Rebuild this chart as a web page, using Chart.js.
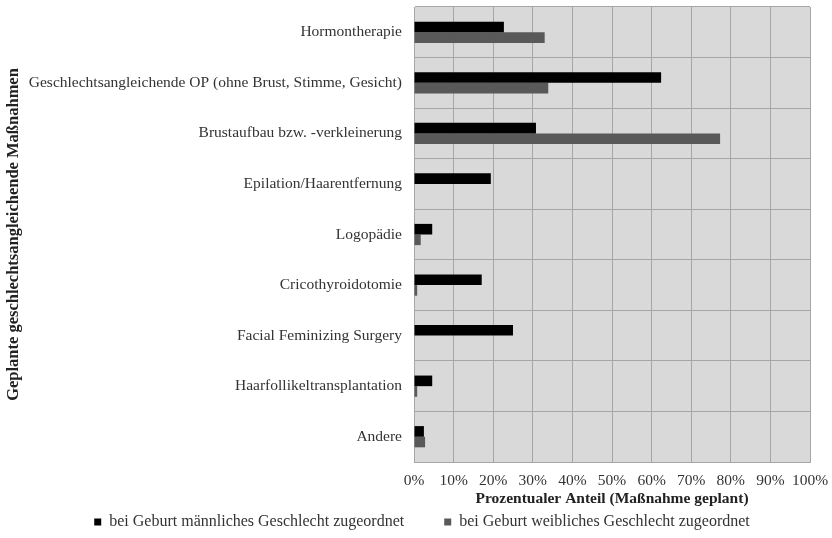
<!DOCTYPE html>
<html>
<head>
<meta charset="utf-8">
<script src="https://cdn.jsdelivr.net/npm/chart.js@4"></script>
<style>
  html, body { margin: 0; padding: 0; background: #fff; }
  #wrap { width: 832px; height: 538px; }
</style>
</head>
<body>
<div id="wrap"><canvas id="myChart" width="832" height="538"></canvas></div>
<script>
const categories = [
    "Hormontherapie",
    "Geschlechtsangleichende OP (ohne Brust, Stimme, Gesicht)",
    "Brustaufbau bzw. -verkleinerung",
    "Epilation/Haarentfernung",
    "Logopädie",
    "Cricothyroidotomie",
    "Facial Feminizing Surgery",
    "Haarfollikeltransplantation",
    "Andere"
];
const maleAssigned = [22.7, 62.4, 30.8, 19.4, 4.6, 17.1, 25.0, 4.6, 2.5];
const femaleAssigned = [33.0, 33.9, 77.3, 0, 1.7, 0.8, 0, 0.8, 2.8];
const xTicks = [0, 10, 20, 30, 40, 50, 60, 70, 80, 90, 100];

const serif = "'Liberation Serif', 'DejaVu Serif', serif";

// grey plot background
const plotBg = {
    id: "plotBg",
    beforeDraw(chart) {
        const a = chart.chartArea, c = chart.ctx;
        c.save();
        c.fillStyle = "#d9d9d9";
        c.fillRect(a.left, a.top, a.right - a.left, a.bottom - a.top);
        c.restore();
    }
};

// legend keeps wide item spacing but sits close under the axis title
const legendShift = {
    id: "legendShift",
    afterLayout(chart) {
        chart.legend.top -= 34;
        chart.legend.left += 34;
    }
};

const ctx = document.getElementById("myChart").getContext("2d");
new Chart(ctx, {
    type: "bar",
    data: {
        labels: categories,
        datasets: [{
            label: "bei Geburt männliches Geschlecht zugeordnet",
            data: maleAssigned,
            backgroundColor: "#000000",
            categoryPercentage: 0.42,
            barPercentage: 1.0
        }, {
            label: "bei Geburt weibliches Geschlecht zugeordnet",
            data: femaleAssigned,
            backgroundColor: "#595959",
            categoryPercentage: 0.42,
            barPercentage: 1.0
        }]
    },
    options: {
        indexAxis: "y",
        responsive: false,
        animation: false,
        layout: { padding: { top: 7, right: 22, left: 0, bottom: 0 } },
        scales: {
            x: {
                min: 0,
                max: 100,
                afterBuildTicks: (s) => { s.ticks = xTicks.map(v => ({ value: v })); },
                afterFit: (s) => { s.height = 46; s.paddingRight = 0; s.paddingLeft = 0; },
                ticks: {
                    callback: (v) => v + "%",
                    color: "#333",
                    font: { family: serif, size: 15.5 },
                    padding: 10,
                    maxRotation: 0,
                    minRotation: 0,
                    autoSkip: false
                },
                grid: { color: "#a6a6a6", lineWidth: 1, drawTicks: false },
                border: { color: "#a6a6a6" },
                title: {
                    display: true,
                    text: "Prozentualer Anteil (Maßnahme geplant)",
                    color: "#222",
                    font: { family: serif, size: 15.5, weight: "bold" },
                    padding: { top: 0, bottom: 0 }
                }
            },
            y: {
                afterFit: (s) => { s.width = 414; s.paddingTop = 0; s.paddingBottom = 0; },
                ticks: {
                    color: "#333",
                    font: { family: serif, size: 15.5 },
                    padding: 12
                },
                grid: { color: "#a6a6a6", lineWidth: 1, drawTicks: false, offset: true },
                border: { color: "#a6a6a6" },
                title: {
                    display: true,
                    text: "Geplante geschlechtsangleichende Maßnahmen",
                    color: "#222",
                    font: { family: serif, size: 16.5, weight: "bold" },
                    padding: { top: 4, bottom: 0 }
                }
            }
        },
        plugins: {
            legend: {
                position: "bottom",
                maxHeight: 30,
                labels: {
                    color: "#333",
                    font: { family: serif, size: 16 },
                    boxWidth: 7,
                    boxHeight: 7,
                    padding: 40
                }
            },
            tooltip: { enabled: false }
        }
    },
    plugins: [plotBg, legendShift]
});
</script>
</body>
</html>
